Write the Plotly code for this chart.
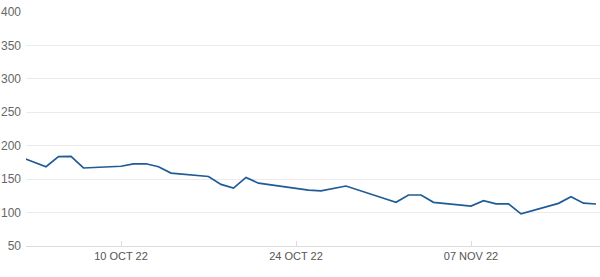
import plotly.graph_objects as go

dates = ["2022-09-30", "2022-10-03", "2022-10-04", "2022-10-05", "2022-10-06", "2022-10-07",
         "2022-10-10", "2022-10-11", "2022-10-12", "2022-10-13", "2022-10-14",
         "2022-10-17", "2022-10-18", "2022-10-19", "2022-10-20", "2022-10-21",
         "2022-10-24", "2022-10-25", "2022-10-26", "2022-10-27", "2022-10-28",
         "2022-10-31", "2022-11-01", "2022-11-02", "2022-11-03", "2022-11-04",
         "2022-11-07", "2022-11-08", "2022-11-09", "2022-11-10", "2022-11-11",
         "2022-11-14", "2022-11-15", "2022-11-16", "2022-11-17"]
values = [197, 176, 168.6, 183.6, 184, 166.7,
          169.3, 172.7, 173, 168.6, 159,
          154, 142.2, 136.5, 152.5, 144,
          136, 133.5, 132.5, 136, 139.7,
          121.5, 115.3, 126.3, 126.3, 115.3,
          109.8, 117.8, 113, 113, 98,
          113.8, 123.7, 114, 112.8]

x_tick_vals = ["2022-10-10", "2022-10-24", "2022-11-07"]
x_tick_text = ["10 OCT 22", "24 OCT 22", "07 NOV 22"]
y_tick_vals = [50, 100, 150, 200, 250, 300, 350, 400]

fig = go.Figure()
fig.add_trace(go.Scatter(
    x=dates, y=values, mode="lines",
    line=dict(color="#1f5b97", width=1.7),
    hoverinfo="skip", showlegend=False,
))

fig.update_layout(
    width=600, height=277,
    margin=dict(l=26, r=0, t=12, b=31),
    paper_bgcolor="white", plot_bgcolor="white",
    font=dict(family="Liberation Sans, Arial, sans-serif", size=11, color="#666666"),
    xaxis=dict(
        type="date",
        range=["2022-10-02 09:36", "2022-11-17 07:40"],
        tickvals=x_tick_vals, ticktext=x_tick_text,
        showgrid=False, showline=True, linecolor="#dcdcdc", linewidth=1,
        ticks="inside", ticklen=5, tickcolor="#dcdcdc",
        tickfont=dict(size=11, color="#555555"),
        zeroline=False,
    ),
    yaxis=dict(
        range=[50, 400],
        tickvals=y_tick_vals,
        showgrid=True, gridcolor="#ebebeb", gridwidth=1,
        showline=False, zeroline=False, ticks="",
        ticklabelstandoff=4,
        tickfont=dict(size=12, color="#666666"),
    ),
)

fig.write_html("out.html")
